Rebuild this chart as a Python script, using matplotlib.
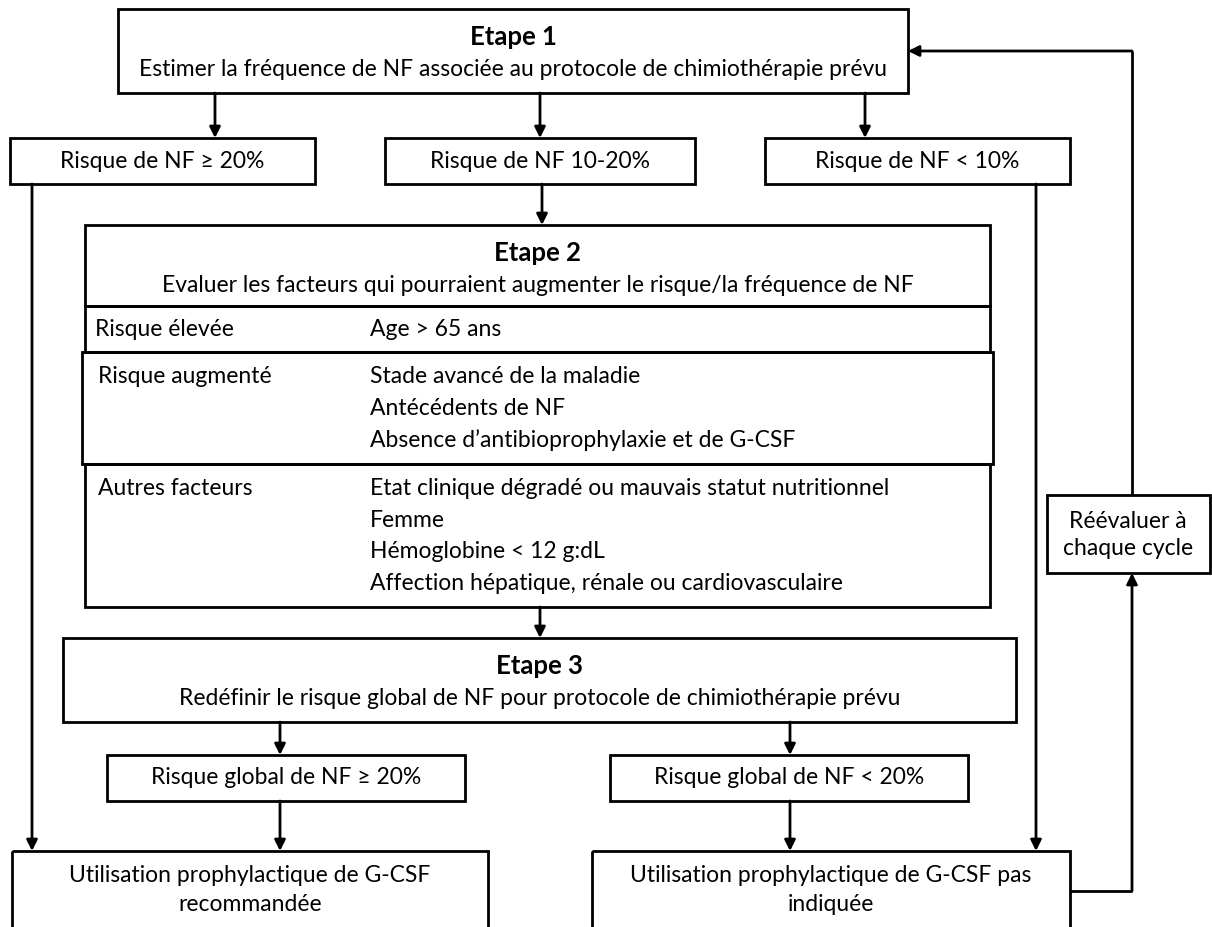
import matplotlib.pyplot as plt
from matplotlib.patches import Rectangle, FancyArrowPatch

plt.rcParams['font.family'] = ['Lato', 'DejaVu Sans']

# textes du schéma
etape_titres = ["Etape 1", "Etape 2", "Etape 3"]
etape_textes = [
    "Estimer la fréquence de NF associée au protocole de chimiothérapie prévu",
    "Evaluer les facteurs qui pourraient augmenter le risque/la fréquence de NF",
    "Redéfinir le risque global de NF pour protocole de chimiothérapie prévu",
]
risques_initiaux = ["Risque de NF \u2265 20%", "Risque de NF 10-20%", "Risque de NF < 10%"]
categories = ["Risque élevée", "Risque augmenté", "Autres facteurs"]
facteurs = [
    ["Age > 65 ans"],
    ["Stade avancé de la maladie", "Antécédents de NF",
     "Absence d\u2019antibioprophylaxie et de G-CSF"],
    ["Etat clinique dégradé ou mauvais statut nutritionnel", "Femme",
     "Hémoglobine < 12 g:dL", "Affection hépatique, rénale ou cardiovasculaire"],
]
risques_globaux = ["Risque global de NF \u2265 20%", "Risque global de NF < 20%"]
decisions = ["Utilisation prophylactique de G-CSF\nrecommandée",
             "Utilisation prophylactique de G-CSF pas\nindiquée"]
reevaluer = "Réévaluer à\nchaque cycle"

W, H = 1212, 928
fig = plt.figure(figsize=(W / 100, H / 100), dpi=100)
ax = fig.add_axes([0, 0, 1, 1])
ax.set_xlim(0, W)
ax.set_ylim(H, 0)
ax.axis('off')

LW = 2.0
FS = 16.5


def box(x0, y0, x1, y1, lw=LW):
    ax.add_patch(Rectangle((x0, y0), x1 - x0, y1 - y0, fill=False,
                           edgecolor='black', linewidth=lw, clip_on=False))


def arrow(pts):
    # polyligne avec pointe de flèche sur le dernier segment
    if len(pts) > 2:
        xs = [p[0] for p in pts[:-1]]
        ys = [p[1] for p in pts[:-1]]
        ax.plot(xs, ys, color='black', lw=LW, solid_capstyle='butt')
    ax.add_patch(FancyArrowPatch(pts[-2], pts[-1], arrowstyle='-|>',
                                 mutation_scale=16, color='black', lw=LW,
                                 shrinkA=0, shrinkB=0))


def etape(x0, y0, x1, y1, titre, texte):
    box(x0, y0, x1, y1)
    cx = (x0 + x1) / 2
    ax.text(cx, y0 + 27, titre, ha='center', va='center', fontsize=FS + 2,
            fontweight='bold')
    ax.text(cx, y0 + 60, texte, ha='center', va='center', fontsize=FS)


# Etape 1
etape(118, 10, 908, 94, etape_titres[0], etape_textes[0])
small = [(10, 315), (385, 695), (765, 1070)]
arr_x = [215, 540, 865]
for (x0, x1), ax_x, lab in zip(small, arr_x, risques_initiaux):
    arrow([(ax_x, 94), (ax_x, 139)])
    box(x0, 139, x1, 185)
    ax.text((x0 + x1) / 2, 161, lab, ha='center', va='center', fontsize=FS)

# Etape 2
arrow([(542, 185), (542, 226)])
etape(85, 226, 990, 307, etape_titres[1], etape_textes[1])
rows = [(85, 307, 990, 353), (82, 353, 993, 465), (85, 465, 990, 608)]
label_x = [95, 98, 98]
for (x0, y0, x1, y1), cat, items, lx in zip(rows, categories, facteurs, label_x):
    box(x0, y0, x1, y1)
    ytop = y0 + 23 if len(items) == 1 else y0 + 24
    ax.text(lx, ytop, cat, ha='left', va='center', fontsize=FS)
    for i, it in enumerate(items):
        ax.text(370, ytop + i * 31.5, it, ha='left', va='center', fontsize=FS)

# Etape 3
arrow([(540, 608), (540, 639)])
etape(63, 639, 1016, 723, etape_titres[2], etape_textes[2])
glob = [(107, 465), (610, 968)]
glob_x = [280, 790]
for (x0, x1), gx, lab in zip(glob, glob_x, risques_globaux):
    arrow([(gx, 723), (gx, 756)])
    box(x0, 756, x1, 802)
    ax.text((x0 + x1) / 2, 778, lab, ha='center', va='center', fontsize=FS)
    arrow([(gx, 802), (gx, 852)])

# décisions
bottoms = [(12, 488), (592, 1070)]
for (x0, x1), lab in zip(bottoms, decisions):
    box(x0, 852, x1, 960)
    ax.text((x0 + x1) / 2, 890, lab, ha='center', va='center', fontsize=FS,
            linespacing=1.45)

# lignes latérales
arrow([(32, 185), (32, 852)])
arrow([(1036, 185), (1036, 852)])

# boucle de réévaluation
box(1047, 496, 1210, 574)
ax.text(1128, 535, reevaluer, ha='center', va='center', fontsize=FS,
        linespacing=1.35)
arrow([(1070, 892), (1132, 892), (1132, 574)])
arrow([(1132, 496), (1132, 52), (908, 52)])

fig.savefig('out.png', dpi=100)
